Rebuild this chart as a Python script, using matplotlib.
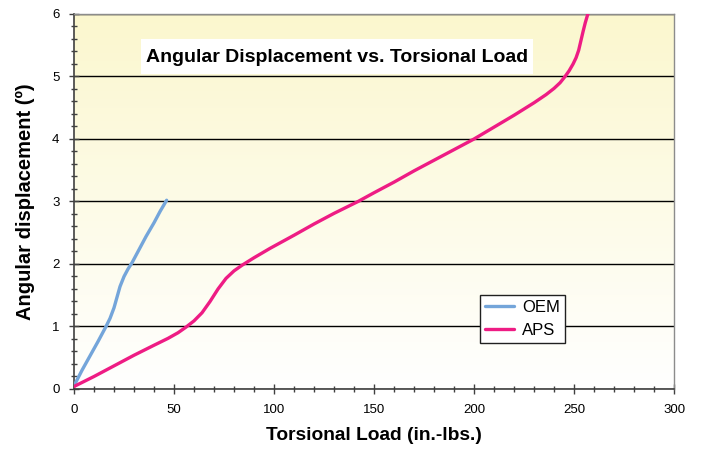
import numpy as np
import matplotlib
matplotlib.use("Agg")
import matplotlib.pyplot as plt
from matplotlib.patches import Rectangle
from matplotlib.ticker import MultipleLocator

plt.rcParams['font.family'] = ['Liberation Sans', 'DejaVu Sans']

# values
oem_load = [0.3, 4, 8, 12, 16, 18, 20, 21.5, 23, 25, 27, 29, 32, 36, 40, 43, 46.3]
oem_disp = [0.07, 0.3, 0.53, 0.76, 1.0, 1.13, 1.3, 1.47, 1.64, 1.8, 1.92, 2.02, 2.2,
            2.44, 2.66, 2.84, 3.02]

aps_load = [0, 10, 20, 30, 40, 47, 52, 56, 60, 64, 68, 72, 76, 80, 84, 90, 98, 110,
            120, 130, 142, 150, 160, 170, 180, 190, 200, 210, 220, 230, 236, 240, 243,
            245.5, 247.5, 249.5, 251, 252.3, 253.4, 254.5, 255.6, 256.7, 257.5]
aps_disp = [0.04, 0.2, 0.37, 0.54, 0.7, 0.81, 0.9, 0.99, 1.09, 1.22, 1.4, 1.6, 1.77,
            1.89, 1.98, 2.1, 2.25, 2.46, 2.64, 2.81, 3.0, 3.14, 3.31, 3.49, 3.66, 3.83,
            4.0, 4.19, 4.38, 4.58, 4.71, 4.81, 4.9, 5.0, 5.09, 5.2, 5.3, 5.42, 5.57,
            5.72, 5.86, 5.98, 6.05]

colors = {'OEM': '#74A5DA', 'APS': '#EE1C84'}

fig = plt.figure(figsize=(7.01, 4.5), dpi=100)
ax = fig.add_axes([0.1056, 0.1356, 0.856, 0.8333])

# yellow -> white gradient background
grad = np.linspace(0, 1, 256).reshape(-1, 1)
top = np.array([251, 247, 206]) / 255.0
bot = np.array([255, 255, 255]) / 255.0
img = bot + (top - bot) * grad[..., None]
ax.imshow(img, extent=[0, 300, 0, 6], origin='lower', aspect='auto', zorder=0)

ax.set_xlim(0, 300)
ax.set_ylim(0, 6)
ax.set_axisbelow(True)
ax.yaxis.grid(True, color='black', lw=1)

ax.plot(oem_load, oem_disp, color=colors['OEM'], lw=2.4, label='OEM',
        solid_capstyle='round', solid_joinstyle='round', zorder=3)
ax.plot(aps_load, aps_disp, color=colors['APS'], lw=2.4, label='APS',
        solid_capstyle='round', solid_joinstyle='round', zorder=3)

ax.xaxis.set_major_locator(MultipleLocator(50))
ax.xaxis.set_minor_locator(MultipleLocator(10))
ax.yaxis.set_major_locator(MultipleLocator(1))
ax.yaxis.set_minor_locator(MultipleLocator(0.2))
ax.tick_params(which='major', direction='inout', length=7, width=1, color='#404040',
               labelsize=9.5, pad=7)
ax.tick_params(which='minor', direction='inout', length=4, width=1, color='#404040')

for side in ['left', 'bottom']:
    ax.spines[side].set_color('#404040')
    ax.spines[side].set_linewidth(1.2)
for side in ['top', 'right']:
    ax.spines[side].set_color('#8c8c8c')
    ax.spines[side].set_linewidth(1)

ax.set_xlabel('Torsional Load (in.-lbs.)', fontsize=13.8, fontweight='bold', labelpad=8)
ax.set_ylabel('Angular displacement (º)', fontsize=14.5, fontweight='bold', labelpad=12)

# title box inside the plot area
ax.add_patch(Rectangle((33.5, 5.04), 196, 0.56, facecolor='white', edgecolor='none', zorder=2.2))
ax.text(131.5, 5.225, 'Angular Displacement vs. Torsional Load', ha='center', va='baseline',
        fontsize=14, fontweight='bold', zorder=2.3)

leg = ax.legend(loc='upper left', bbox_to_anchor=(0.677, 0.251), borderaxespad=0,
                fontsize=12, fancybox=False, framealpha=1, edgecolor='#202020',
                handlelength=1.75, handletextpad=0.45, borderpad=0.3, labelspacing=0.5)
leg.get_frame().set_linewidth(1)

fig.savefig('out.png', dpi=100)
